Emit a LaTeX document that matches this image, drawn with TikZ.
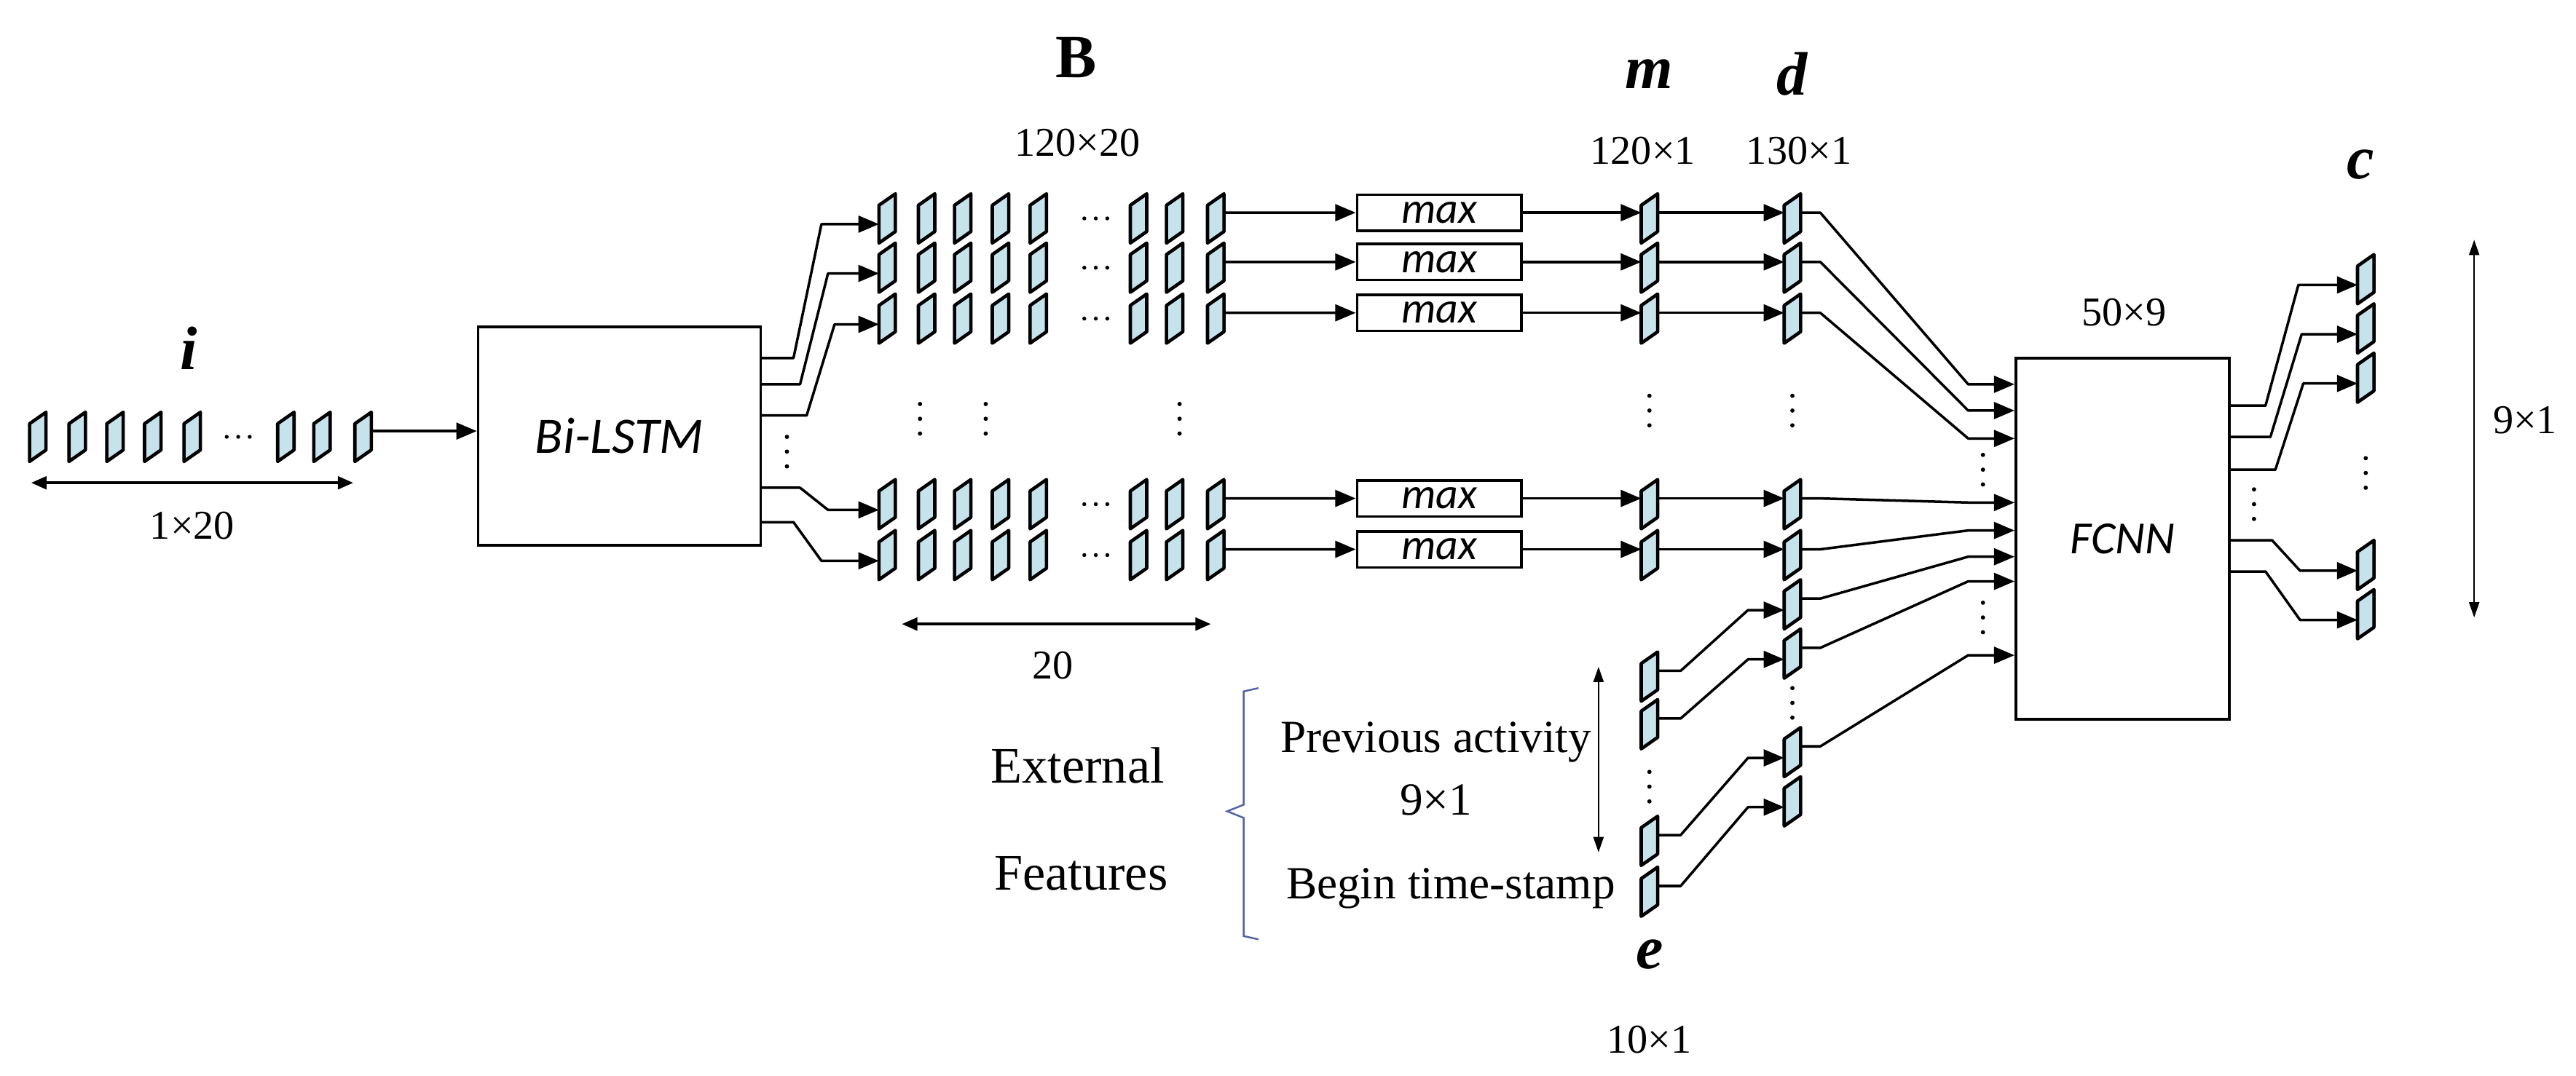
\documentclass[tikz,border=0pt]{standalone}
\usepackage{fontspec}
\setmainfont{Liberation Serif}
\newfontfamily\carl{Carlito}
\usetikzlibrary{calc,arrows.meta}
\definecolor{cellblue}{HTML}{C6E2EA}
\definecolor{bracec}{HTML}{5262A2}
\def\u{0.02256cm}
\tikzset{
  x=0.02256cm,y=-0.02256cm,
  cellbox/.style={inner sep=0,minimum width=10*\u,minimum height=30*\u,draw=none},
  cellst/.style={draw=black,line width=1.3pt,fill=cellblue,line join=round},
  conn/.style={line width=1pt,line join=round},
  arr/.style={conn,-{Triangle[length=8pt,width=6.5pt]}},
  dim/.style={line width=1pt,{Triangle[length=6pt,width=5pt]}-{Triangle[length=6pt,width=5pt]}},
  thindim/.style={line width=0.6pt,{Triangle[length=6pt,width=4pt]}-{Triangle[length=6pt,width=4pt]}},
  box/.style={draw,line width=1pt,inner sep=0},
  maxbox/.style={box,minimum width=100*\u,minimum height=22*\u,font=\carl\itshape\fontsize{17}{17}\selectfont},
  lbl/.style={font=\fontsize{16}{16}\selectfont},
  big/.style={font=\fontsize{20}{20}\selectfont},
  sym/.style={font=\bfseries\itshape\fontsize{24}{24}\selectfont},
}
\newcommand\mycell[2]{%
  \node[cellbox] (#1) at (#2) {};
  \draw[cellst] (#1.center) ++(-5,-8) -- ++(10,-7) -- ++(0,23) -- ++(-10,7) -- cycle;
  \coordinate (#1-o) at ($(#1.center)+(5,-3.5)$);
  \coordinate (#1-i) at ($(#1.center)+(-5,3.5)$);}
\newcommand\vdd[1]{\foreach \dd in {-9,0,9}{\fill ($(#1)+(0,\dd)$) circle (1.3);}}
\newcommand\hdd[1]{\foreach \dd in {-7,0,7}{\fill ($(#1)+(\dd,0)$) circle (1.2);}}
\begin{document}
\begin{tikzpicture}
\useasboundingbox (0,0) rectangle (1568,655);
% ---- input i
\node[sym] (ilab) at (115,212) {i};
\foreach \k/\x in {1/23,2/47,3/70,4/93,5/117,6/174,7/196,8/221}{\mycell{i\k}{\x,266}}
\hdd{145,266}
\draw[dim] (19,294) -- (215,294);
\node[lbl] (idim) at (117,320) {1×20};
% ---- Bi-LSTM
\node[box,minimum width=172*\u,minimum height=133*\u,font=\carl\itshape\fontsize{20}{20}\selectfont] (lstm) at (377,265.5) {Bi-LSTM};
\draw[arr] (i8-o) -- (i8-o -| lstm.west);
\vdd{479,275}
% ---- B rows
\node[font=\bfseries\fontsize{24}{24}\selectfont] (Blab) at (655,35) {B};
\node[lbl] (Bdim) at (656,87) {120×20};
\foreach \r/\y in {1/133,2/163,3/194,4/307,5/338}{
  \foreach \k/\x in {1/540,2/564,3/586,4/609,5/632,6/693,7/715,8/740}{\mycell{B\r-\k}{\x,\y}}
  \hdd{667,\y}
  \node[maxbox] (mx\r) at (876,\y-3.5) {max};
  \draw[arr] (B\r-8-o) -- (mx\r.west);
  \mycell{m\r}{1004,\y}
  \draw[arr] (mx\r.east) -- (mx\r.east -| m\r-i);
  \mycell{d\r}{1091,\y}
  \draw[arr] (m\r-o) -- (m\r-o -| d\r-i);
}
\foreach \x in {560,600,718}{\vdd{\x,255}}
% LSTM -> B
\draw[arr] (lstm.east |- 0,218) -- (483,218) -- (500,136.5) -- (B1-1-i);
\draw[arr] (lstm.east |- 0,234) -- (487,234) -- (504,166.5) -- (B2-1-i);
\draw[arr] (lstm.east |- 0,253) -- (491,253) -- (508,197.5) -- (B3-1-i);
\draw[arr] (lstm.east |- 0,297) -- (487,297) -- (504,310.5) -- (B4-1-i);
\draw[arr] (lstm.east |- 0,318) -- (483,318) -- (500,341.5) -- (B5-1-i);
\draw[dim] (549,380) -- (737,380);
\node[lbl] (Bw) at (641,405) {20};
% ---- m, d labels
\node[sym] (mlab) at (1004,45) {m};
\node[lbl] (mdim) at (1000,92) {120×1};
\node[sym] (dlab) at (1091,45) {d};
\node[lbl] (ddim) at (1095,92) {130×1};
\vdd{1004,250}
\vdd{1091,250}
% ---- d extra, e
\foreach \k/\y in {6/368,7/398,8/458,9/488}{\mycell{d\k}{1091,\y}}
\vdd{1091,428}
\foreach \k/\y in {1/412,2/441,3/512,4/543}{\mycell{e\k}{1004,\y}}
\vdd{1004,479}
\foreach \a/\b in {1/6,2/7,3/8,4/9}{
  \draw[arr] (e\a-o) -- ++(14,0) -- ($(d\b-i)+(-22,0)$) -- (d\b-i);}
\node[sym] (elab) at (1004,581) {e};
\node[lbl] (edim) at (1004,633) {10×1};
% ---- external features
\draw[thindim] (973,406) -- (973,519);
\node[big] (ext) at (656,466) {External};
\node[big] (feat) at (658,532) {Features};
\node[font=\fontsize{18}{18}\selectfont] (prev) at (874,452) {Previous activity};
\node[font=\fontsize{18}{18}\selectfont] (pdim) at (874,487) {9×1};
\node[font=\fontsize{18}{18}\selectfont] (begin) at (883,541) {Begin time-stamp};
\draw[bracec,line width=0.7pt] (766,419) -- (757,421) -- (757,490) -- (747,494) -- (757,498) -- (757,570) -- (766,572);
% ---- FCNN
\node[box,minimum width=130*\u,minimum height=220*\u,font=\carl\itshape\fontsize{18}{18}\selectfont] (fc) at (1292,328) {FCNN};
\node[lbl] (fdim) at (1293,190) {50×9};
\foreach \k/\yy in {1/234,2/250,3/267,4/306,5/323,6/339,7/354,8/399}{
  \draw[arr] (d\k-o) -- ++(12,0) -- (1198,\yy) -- (fc.west |- 0,\yy);}
\vdd{1207,286}
\vdd{1207,376}
% ---- c
\node[sym] (clab) at (1437,100) {c};
\foreach \k/\y in {1/170,2/200,3/230,4/344,5/374}{\mycell{c\k}{1440,\y}}
\draw[arr] (fc.east |- 0,247) -- (1379,247) -- (1399,173.5) -- (c1-i);
\draw[arr] (fc.east |- 0,266) -- (1382,266) -- (1401,203.5) -- (c2-i);
\draw[arr] (fc.east |- 0,286) -- (1385,286) -- (1402,233.5) -- (c3-i);
\draw[arr] (fc.east |- 0,329) -- (1383,329) -- (1400,347.5) -- (c4-i);
\draw[arr] (fc.east |- 0,348) -- (1379,348) -- (1400,377.5) -- (c5-i);
\vdd{1372,307}
\vdd{1440,288}
\draw[thindim] (1506,146) -- (1506,376);
\node[lbl] (cdim) at (1537,256) {9×1};
\end{tikzpicture}
\end{document}
